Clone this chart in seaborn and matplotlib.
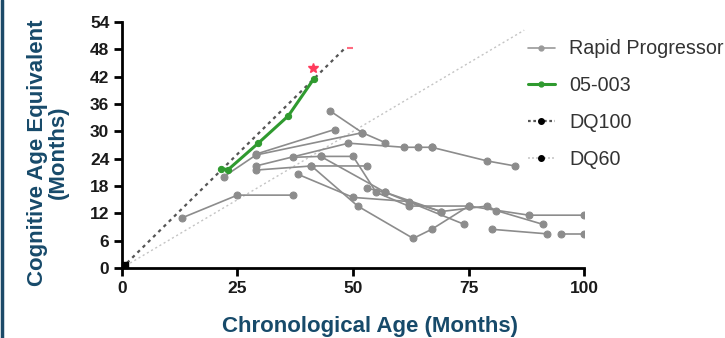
import matplotlib
matplotlib.use("Agg")
import matplotlib.pyplot as plt
import seaborn as sns
import pandas as pd
from matplotlib.lines import Line2D

# ---- data ----
rp_ages = [
    [13, 25, 37],
    [22, 29, 52],
    [29, 46],
    [45, 52, 57],
    [29, 49, 61, 64, 67],
    [67, 79, 85],
    [29, 41, 53],
    [37, 43, 57, 74],
    [38, 50, 62, 69, 79, 81, 91],
    [43, 50, 55, 62, 75, 88, 100],
    [41, 51, 63, 67, 75],
    [53, 57, 69],
    [80, 92],
    [95, 100],
]
rp_cog = [
    [11, 16, 16],
    [20, 24.8, 29.7],
    [25, 30.4],
    [34.5, 29.7, 27.5],
    [22.4, 27.4, 26.5, 26.5, 26.5],
    [26.5, 23.5, 22.4],
    [21.5, 22.4, 22.4],
    [24.3, 24.5, 16.6, 9.6],
    [20.6, 15.5, 14.6, 12.4, 13.6, 12.6, 9.6],
    [24.5, 24.5, 16.6, 13.6, 13.6, 11.6, 11.6],
    [22.4, 13.6, 6.5, 8.5, 13.6],
    [17.5, 16.6, 12.4],
    [8.5, 7.5],
    [7.5, 7.5],
]
case_ages = [21.5, 23, 29.5, 36, 41.5]
case_cog = [21.8, 21.6, 27.4, 33.4, 41.5]
star_ages = [41.4]
star_cog = [44]
dq100_ages = [0, 48.5]
dq100 = [0, 48.5]
dq60_ages = [0, 87]
dq60 = [0, 52.2]
x_ticks = [0, 25, 50, 75, 100]
y_ticks = [0, 6, 12, 18, 24, 30, 36, 42, 48, 54]

rows = []
for i, (a, c) in enumerate(zip(rp_ages, rp_cog)):
    for ai, ci in zip(a, c):
        rows.append({"subject": i, "age": ai, "cog": ci})
df = pd.DataFrame(rows)
case_df = pd.DataFrame({"age": case_ages, "cog": case_cog})

sns.set_theme(style="white")
plt.rcParams["font.family"] = ["Liberation Sans", "DejaVu Sans"]

fig = plt.figure(figsize=(7.25, 3.38), dpi=100)
ax = fig.add_axes([0.168, 0.207, 0.638, 0.728])

label_color = "#174a6a"
gray = "#8c8c8c"
green = "#2f9a2f"

# reference lines
ax.plot(dq60_ages, dq60, color="#c4c4c4", lw=1.0, ls=(0, (1.5, 2)), zorder=1)
ax.plot(dq100_ages, dq100, color="#555555", lw=1.6, ls=(0, (1.5, 1.8)), zorder=1)
ax.plot([0.6], [0.6], marker="s", color="black", ms=5, zorder=5, clip_on=False)

sns.lineplot(data=df, x="age", y="cog", units="subject", estimator=None,
             sort=False, color=gray, lw=1.2, marker="o", ms=5,
             markeredgecolor=gray, ax=ax, zorder=2, legend=False)
sns.lineplot(data=case_df, x="age", y="cog", estimator=None, sort=False,
             color=green, lw=2.2, marker="o", ms=4.5, markeredgecolor=green,
             ax=ax, zorder=4, legend=False)
ax.plot(star_ages, star_cog, ls="none", marker="*", color="#ff3b5c", ms=7, zorder=4)
ax.plot([49.3], [48.2], ls="none", marker="_", color="#ff6b80", ms=5, mew=1.5, zorder=4)

ax.set_xlim(0, 100)
ax.set_ylim(0, 54)
ax.set_xticks(x_ticks)
ax.set_yticks(y_ticks)
for s in ["top", "right"]:
    ax.spines[s].set_visible(False)
for s in ["left", "bottom"]:
    ax.spines[s].set_color("black")
    ax.spines[s].set_linewidth(2)
ax.tick_params(axis="both", direction="out", length=6, width=2, color="black",
               labelsize=12.5, labelcolor="#1a1a1a", pad=3,
               bottom=True, left=True)
for lab in ax.get_xticklabels() + ax.get_yticklabels():
    lab.set_fontweight("bold")

ax.set_xlabel("Chronological Age (Months)", fontsize=16, fontweight="bold",
              color=label_color)
ax.xaxis.set_label_coords(0.537, -0.195)
ax.set_ylabel("Cognitive Age Equivalent\n(Months)", fontsize=16, fontweight="bold",
              color=label_color, linespacing=1.0)
ax.yaxis.set_label_coords(-0.115, 0.47)

handles = [
    Line2D([], [], color="#9a9a9a", lw=1.2, marker="o", ms=3.5),
    Line2D([], [], color=green, lw=2.2, marker="o", ms=3.5),
    Line2D([], [], color="#555555", lw=1.6, ls=(0, (1.2, 1.2)), marker="o", ms=4,
           markerfacecolor="black", markeredgecolor="black"),
    Line2D([], [], color="#c8c8c8", lw=1.2, ls=(0, (1.2, 1.2)), marker="o", ms=4,
           markerfacecolor="black", markeredgecolor="black"),
]
leg = fig.legend(handles, ["Rapid Progressor", "05-003", "DQ100", "DQ60"],
                 loc="upper left", bbox_to_anchor=(0.706, 0.93), frameon=True,
                 fontsize=14.2, handlelength=1.4, handletextpad=0.7,
                 labelspacing=0.9, borderpad=0.3)
leg.get_frame().set_facecolor("white")
leg.get_frame().set_edgecolor("white")
for t in leg.get_texts():
    t.set_color("#333333")

fig.add_artist(Line2D([0.003, 0.003], [0, 1], transform=fig.transFigure,
                      color="#1c4a68", lw=2.5))

fig.savefig("out.png", dpi=100, facecolor="white")
